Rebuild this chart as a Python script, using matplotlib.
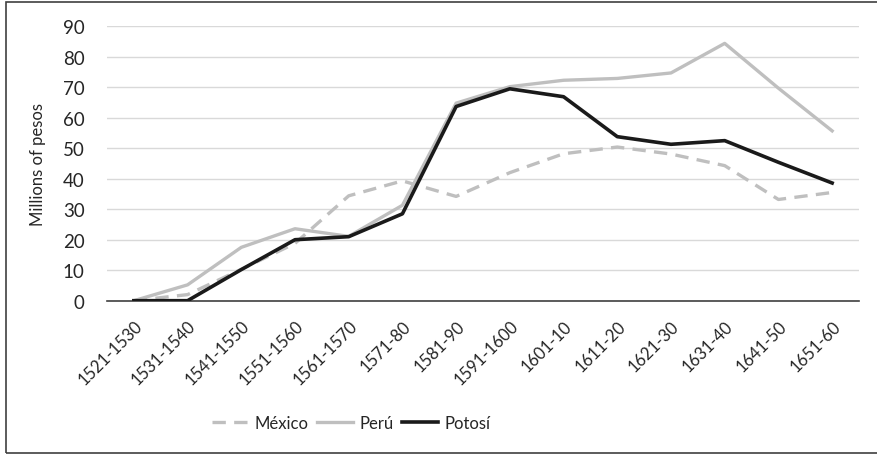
import matplotlib
matplotlib.use("Agg")
import matplotlib.pyplot as plt
from matplotlib.patches import Rectangle

periods = ["1521-1530", "1531-1540", "1541-1550", "1551-1560", "1561-1570",
           "1571-80", "1581-90", "1591-1600", "1601-10", "1611-20",
           "1621-30", "1631-40", "1641-50", "1651-60"]
mexico = [0, 2.0, 10.3, 18.8, 34.4, 39.3, 34.2, 42.0, 48.2, 50.4, 48.1, 44.3, 33.2, 35.5]
peru = [0, 5.2, 17.5, 23.6, 21.1, 31.3, 64.8, 70.2, 72.3, 72.9, 74.7, 84.4, 69.7, 55.7]
potosi = [0, 0, 10.2, 20.0, 21.0, 28.5, 63.7, 69.5, 66.9, 53.8, 51.3, 52.5, 45.4, 38.6]
yticks = [0, 10, 20, 30, 40, 50, 60, 70, 80, 90]

plt.rcParams['font.family'] = ['Lato', 'DejaVu Sans']

fig = plt.figure(figsize=(8.78, 4.56), dpi=100)
ax = fig.add_axes([107/878, 1 - 301.7/456, (859-107)/878, (301.7-27.3)/456])

x = list(range(len(periods)))
l1, = ax.plot(x, mexico, color='#bfbfbf', lw=2.4, dashes=(4, 2.5), label='México', solid_capstyle='butt')
l2, = ax.plot(x, peru, color='#bfbfbf', lw=2.4, label='Perú')
l3, = ax.plot(x, potosi, color='#1a1a1a', lw=2.6, label='Potosí')

ax.set_xlim(-0.5, len(periods) - 0.5)
ax.set_ylim(0, 90)
ax.set_yticks(yticks)
ax.set_yticklabels([str(v) for v in yticks])
ax.set_xticks(x)
ax.set_xticklabels(periods, rotation=45, ha='right', rotation_mode='anchor')
ax.grid(axis='y', color='#d9d9d9', lw=1.0)
ax.set_axisbelow(True)
for s in ['left', 'right', 'top']:
    ax.spines[s].set_visible(False)
ax.spines['bottom'].set_color('#404040')
ax.spines['bottom'].set_linewidth(1.2)
ax.spines['bottom'].set_zorder(1)
ax.tick_params(axis='both', length=0, colors='#262626')
ax.tick_params(axis='y', labelsize=13.5, pad=16)
ax.tick_params(axis='x', labelsize=12, pad=12)
ax.set_ylabel('Millions of pesos', fontsize=12, color='#262626', labelpad=12)

leg = fig.legend(handles=[l1, l2, l3], loc='center', bbox_to_anchor=(351/878, 1 - 424/456),
                 ncol=3, frameon=False, fontsize=12, handlelength=2.2,
                 columnspacing=0.5, handletextpad=0.35)
for t in leg.get_texts():
    t.set_color('#262626')

fig.patches.append(Rectangle((6/878, 2/456), 1.0, 451/456, transform=fig.transFigure,
                             fill=False, edgecolor='#404040', lw=1.2))

fig.savefig('out.png', dpi=100)
